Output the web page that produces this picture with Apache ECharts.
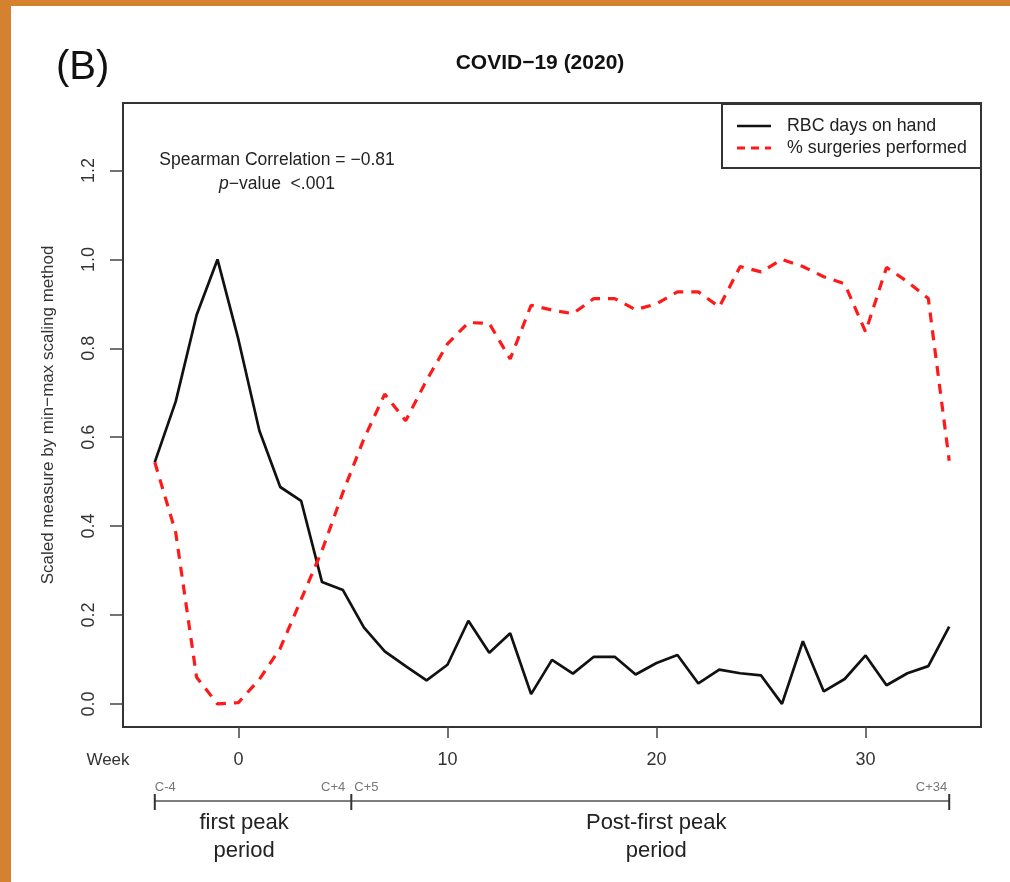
<!DOCTYPE html>
<html lang="en">
<head>
<meta charset="utf-8">
<script src="https://cdn.jsdelivr.net/npm/echarts@6/dist/echarts.min.js"></script>
<style>
  * { margin: 0; padding: 0; }
  body { background: #fff; }
</style>
</head>
<body>
<div id="main" style="width:1010px;height:882px;"></div>
<script>
// weeks relative to the first COVID peak
var weeks = [-4, -3, -2, -1, 0, 1, 2, 3, 4, 5, 6, 7, 8, 9, 10, 11, 12, 13, 14, 15,
             16, 17, 18, 19, 20, 21, 22, 23, 24, 25, 26, 27, 28, 29, 30, 31, 32, 33, 34];
// RBC days on hand (scaled)
var rbcDays = [0.544, 0.68, 0.875, 1.0, 0.82, 0.615, 0.488, 0.457, 0.274, 0.256,
               0.172, 0.118, 0.085, 0.053, 0.088, 0.187, 0.115, 0.159, 0.022, 0.099,
               0.068, 0.106, 0.106, 0.066, 0.092, 0.11, 0.046, 0.077, 0.069, 0.064,
               0.0, 0.141, 0.028, 0.056, 0.109, 0.042, 0.069, 0.085, 0.174];
// % surgeries performed (scaled)
var surgeries = [0.544, 0.386, 0.06, 0.0, 0.003, 0.055, 0.125, 0.235, 0.345, 0.476,
                 0.596, 0.697, 0.637, 0.728, 0.81, 0.858, 0.856, 0.776, 0.897, 0.886,
                 0.878, 0.912, 0.912, 0.887, 0.9, 0.927, 0.927, 0.893, 0.984, 0.972,
                 1.0, 0.984, 0.961, 0.945, 0.837, 0.982, 0.95, 0.912, 0.547];
var xTicks = [0, 10, 20, 30];
var yTicks = [0, 0.2, 0.4, 0.6, 0.8, 1.0, 1.2];
// period bracket under the axis
var periodBounds = [-4, 5.4, 34];
var periodNames = ['first peak\nperiod', 'Post-first peak\nperiod'];
var periodEnds = [['C-4', 'C+4'], ['C+5', 'C+34']];

var FONT = '"Liberation Sans", Arial, sans-serif';
var chart = echarts.init(document.getElementById('main'));

function pairs(ys) {
    return weeks.map(function (w, i) { return [w, ys[i]]; });
}

var option = {
    backgroundColor: '#fff',
    animation: false,
    textStyle: { fontFamily: FONT },
    title: {
        text: 'COVID\u221219 (2020)',
        left: 535, top: 48, textAlign: 'center',
        textStyle: { fontSize: 21, fontWeight: 'bold', color: '#111', fontFamily: FONT }
    },
    grid: {
        left: 123, top: 103, width: 858, height: 624,
        show: true, borderColor: '#333', borderWidth: 2, backgroundColor: 'transparent'
    },
    xAxis: {
        type: 'value', min: -5.52, max: 35.52,
        splitLine: { show: false },
        axisLine: { show: false, onZero: false },
        axisTick: { customValues: xTicks, length: 11, lineStyle: { color: '#444', width: 1.5 } },
        axisLabel: { customValues: xTicks, margin: 24, fontSize: 18, color: '#333' }
    },
    yAxis: {
        type: 'value', min: -0.052, max: 1.352,
        splitLine: { show: false },
        axisLine: { show: false, onZero: false },
        axisTick: { customValues: yTicks, length: 13, lineStyle: { color: '#444', width: 1.5 } },
        axisLabel: {
            customValues: yTicks, rotate: 90, margin: 25, fontSize: 18, color: '#333',
            formatter: function (v) { return v.toFixed(1); }
        },
        name: 'Scaled measure by min\u2212max scaling method',
        nameLocation: 'middle', nameGap: 66, nameRotate: 90,
        nameTextStyle: { fontSize: 17, color: '#333' }
    },
    series: [{
        name: 'RBC days on hand',
        type: 'line',
        data: pairs(rbcDays),
        showSymbol: false,
        lineStyle: { color: '#111', width: 2.7 }
    }, {
        name: '% surgeries performed',
        type: 'line',
        data: pairs(surgeries),
        showSymbol: false,
        lineStyle: { color: '#ff1a1a', width: 3.2, type: [10, 8] }
    }]
};
chart.setOption(option);

// annotations, legend and period bracket
var g = [
    { type: 'rect', shape: { x: 0, y: 0, width: 1010, height: 6 }, style: { fill: '#d4822f' }, silent: true },
    { type: 'rect', shape: { x: 0, y: 0, width: 11, height: 882 }, style: { fill: '#d4822f' }, silent: true },
    { type: 'text', x: 56, y: 48, style: { text: '(B)', fontSize: 40, fill: '#111', fontFamily: FONT } },
    { type: 'text', x: 108, y: 760, style: { text: 'Week', fontSize: 17, fill: '#333', fontFamily: FONT, align: 'center', verticalAlign: 'middle' } },
    { type: 'text', x: 277, y: 160, style: { text: 'Spearman Correlation = \u22120.81', fontSize: 17.5, fill: '#222', fontFamily: FONT, align: 'center', verticalAlign: 'middle' } },
    { type: 'text', x: 277, y: 184, style: {
        text: '{i|p}\u2212value  <.001', fontSize: 17.5, fill: '#222', fontFamily: FONT, align: 'center', verticalAlign: 'middle',
        rich: { i: { fontStyle: 'italic', fontSize: 17.5, fontFamily: FONT } } } },
    // legend box
    { type: 'rect', shape: { x: 722, y: 104, width: 259, height: 64 }, style: { fill: '#fff', stroke: '#333', lineWidth: 2 } },
    { type: 'line', shape: { x1: 737, y1: 126, x2: 771, y2: 126 }, style: { stroke: '#111', lineWidth: 2.7 } },
    { type: 'line', shape: { x1: 737, y1: 148, x2: 771, y2: 148 }, style: { stroke: '#ff1a1a', lineWidth: 3.2, lineDash: [8, 6] } },
    { type: 'text', x: 787, y: 126, style: { text: option.series[0].name, fontSize: 17.8, fill: '#222', fontFamily: FONT, verticalAlign: 'middle' } },
    { type: 'text', x: 787, y: 148, style: { text: option.series[1].name, fontSize: 17.8, fill: '#222', fontFamily: FONT, verticalAlign: 'middle' } }
];

var bx = periodBounds.map(function (b) { return chart.convertToPixel({ gridIndex: 0 }, [b, 0])[0]; });
var lineY = 801;
g.push({ type: 'line', shape: { x1: bx[0], y1: lineY, x2: bx[bx.length - 1], y2: lineY }, style: { stroke: '#555', lineWidth: 1.5 } });
bx.forEach(function (x) {
    g.push({ type: 'line', shape: { x1: x, y1: lineY - 7, x2: x, y2: lineY + 9 }, style: { stroke: '#333', lineWidth: 2 } });
});
periodNames.forEach(function (name, i) {
    var x0 = bx[i], x1 = bx[i + 1];
    g.push({ type: 'text', x: (x0 + x1) / 2 + (i === 0 ? -9 : 6), y: 837, style: {
        text: name, fontSize: 22, lineHeight: 28, fill: '#222', fontFamily: FONT, align: 'center', verticalAlign: 'middle' } });
    g.push({ type: 'text', x: x0 + (i === 0 ? 0 : 3), y: 787, style: {
        text: periodEnds[i][0], fontSize: 13, fill: '#777', fontFamily: FONT, verticalAlign: 'middle' } });
    g.push({ type: 'text', x: x1 - (i === 0 ? 6 : 2), y: 787, style: {
        text: periodEnds[i][1], fontSize: 13, fill: '#777', fontFamily: FONT, align: 'right', verticalAlign: 'middle' } });
});

chart.setOption({ graphic: g });
</script>
</body>
</html>
